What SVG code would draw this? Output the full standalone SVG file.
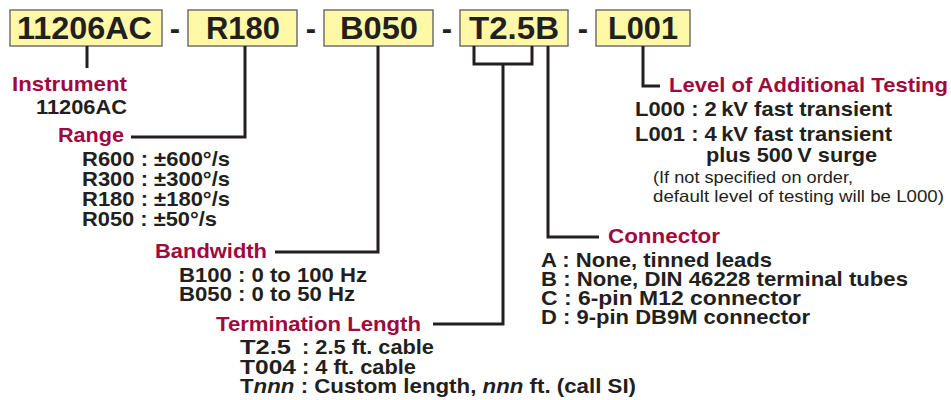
<svg xmlns="http://www.w3.org/2000/svg" width="951" height="400" viewBox="0 0 951 400">
<style>
.box{fill:#FFF8A6;stroke:#707070;stroke-width:1.5}
.code{font-family:"Liberation Sans",Arial,sans-serif;font-weight:bold;font-size:31px;fill:#231F20}
.dash{font-family:"Liberation Sans",Arial,sans-serif;font-weight:bold;font-size:31px;fill:#231F20;text-anchor:middle}
.lab{font-family:"Liberation Sans",Arial,sans-serif;font-weight:bold;font-size:21px;fill:#A0093D}
.t{font-family:"Liberation Sans",Arial,sans-serif;font-weight:bold;font-size:20.5px;fill:#231F20}
.s{font-family:"Liberation Sans",Arial,sans-serif;font-size:16.5px;fill:#231F20}
.ln{fill:none;stroke:#231F20;stroke-width:3;stroke-linejoin:miter}
</style>
<rect width="951" height="400" fill="#FFFFFF"/>
<g id="code-instrument">
<rect class="box" x="10" y="10" width="152" height="36"/>
<text class="code" x="17" y="39" textLength="135" lengthAdjust="spacingAndGlyphs">11206AC</text>
</g>
<text class="dash" x="175" y="39">-</text>
<g id="code-range">
<rect class="box" x="188" y="10" width="109" height="36"/>
<text class="code" x="206" y="39" textLength="74" lengthAdjust="spacingAndGlyphs">R180</text>
</g>
<text class="dash" x="311" y="39">-</text>
<g id="code-bandwidth">
<rect class="box" x="324" y="10" width="109" height="36"/>
<text class="code" x="340" y="39" textLength="78" lengthAdjust="spacingAndGlyphs">B050</text>
</g>
<text class="dash" x="447" y="39">-</text>
<g id="code-termination">
<rect class="box" x="460" y="10" width="108" height="36"/>
<text class="code" x="469" y="39" textLength="90" lengthAdjust="spacingAndGlyphs">T2.5B</text>
</g>
<text class="dash" x="583" y="39">-</text>
<g id="code-level">
<rect class="box" x="596" y="10" width="94" height="36"/>
<text class="code" x="608" y="39" textLength="70" lengthAdjust="spacingAndGlyphs">L001</text>
</g>
<g id="connectors">
<path class="ln" d="M87 46V68"/>
<path class="ln" d="M245 46V137H131"/>
<path class="ln" d="M378 46V252H275"/>
<path class="ln" d="M474 46V64H532V46"/>
<path class="ln" d="M503 64V324H433"/>
<path class="ln" d="M548 46V237H599"/>
<path class="ln" d="M643 46V86H660"/>
</g>
<g id="instrument">
<text class="lab" x="12" y="91" textLength="115" lengthAdjust="spacingAndGlyphs">Instrument</text>
<text class="t" x="36" y="114" textLength="91" lengthAdjust="spacingAndGlyphs">11206AC</text>
</g>
<g id="range">
<text class="lab" x="58" y="142" textLength="66" lengthAdjust="spacingAndGlyphs">Range</text>
<text class="t" x="82" y="166" textLength="148" lengthAdjust="spacingAndGlyphs">R600 : ±600°/s</text>
<text class="t" x="82" y="186" textLength="148" lengthAdjust="spacingAndGlyphs">R300 : ±300°/s</text>
<text class="t" x="82" y="206" textLength="148" lengthAdjust="spacingAndGlyphs">R180 : ±180°/s</text>
<text class="t" x="82" y="226" textLength="135" lengthAdjust="spacingAndGlyphs">R050 : ±50°/s</text>
</g>
<g id="bandwidth">
<text class="lab" x="155" y="258" textLength="112" lengthAdjust="spacingAndGlyphs">Bandwidth</text>
<text class="t" x="179" y="282" textLength="188" lengthAdjust="spacingAndGlyphs">B100 : 0 to 100 Hz</text>
<text class="t" x="179" y="301" textLength="176" lengthAdjust="spacingAndGlyphs">B050 : 0 to 50 Hz</text>
</g>
<g id="termination">
<text class="lab" x="216" y="331" textLength="205" lengthAdjust="spacingAndGlyphs">Termination Length</text>
<text class="t" x="240" y="354" textLength="51" lengthAdjust="spacingAndGlyphs">T2.5</text>
<text class="t" x="302" y="354" textLength="132" lengthAdjust="spacingAndGlyphs">: 2.5 ft. cable</text>
<text class="t" x="240" y="374" textLength="56" lengthAdjust="spacingAndGlyphs">T004</text>
<text class="t" x="302" y="374" textLength="114" lengthAdjust="spacingAndGlyphs">: 4 ft. cable</text>
<text class="t" x="240" y="393" textLength="396" lengthAdjust="spacingAndGlyphs">T<tspan font-style="italic">nnn</tspan> : Custom length, <tspan font-style="italic">nnn</tspan> ft. (call SI)</text>
</g>
<g id="level">
<text class="lab" x="669" y="92" textLength="279" lengthAdjust="spacingAndGlyphs">Level of Additional Testing</text>
<text class="t" x="635" y="116" textLength="257" lengthAdjust="spacingAndGlyphs">L000 : 2&#8201;kV fast transient</text>
<text class="t" x="635" y="141" textLength="257" lengthAdjust="spacingAndGlyphs">L001 : 4&#8201;kV fast transient</text>
<text class="t" x="706" y="162" textLength="171" lengthAdjust="spacingAndGlyphs">plus 500&#8201;V surge</text>
<text class="s" x="653" y="183" textLength="200" lengthAdjust="spacingAndGlyphs">(If not specified on order,</text>
<text class="s" x="653" y="202" textLength="291" lengthAdjust="spacingAndGlyphs">default level of testing will be L000)</text>
</g>
<g id="connector">
<text class="lab" x="608" y="243" textLength="112" lengthAdjust="spacingAndGlyphs">Connector</text>
<text class="t" x="541" y="267" textLength="231" lengthAdjust="spacingAndGlyphs">A : None, tinned leads</text>
<text class="t" x="541" y="286" textLength="367" lengthAdjust="spacingAndGlyphs">B : None, DIN 46228 terminal tubes</text>
<text class="t" x="541" y="305" textLength="260" lengthAdjust="spacingAndGlyphs">C : 6-pin M12 connector</text>
<text class="t" x="541" y="324" textLength="269" lengthAdjust="spacingAndGlyphs">D : 9-pin DB9M connector</text>
</g>
</svg>
